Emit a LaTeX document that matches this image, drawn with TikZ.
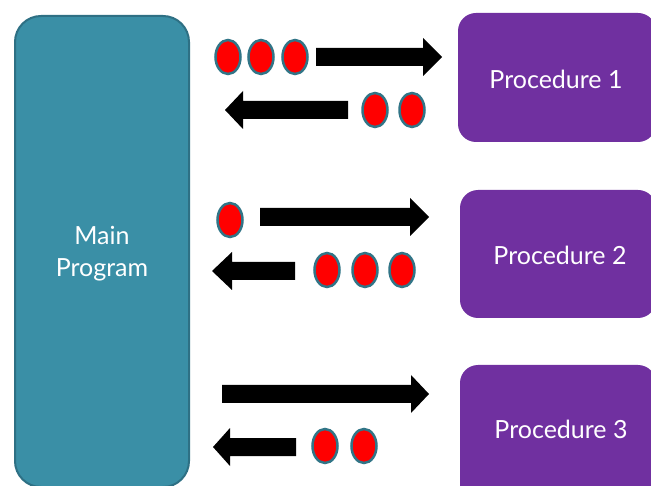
\documentclass[tikz,border=0pt]{standalone}
\usepackage{fontspec}
\setmainfont{Lato}
\definecolor{tealfill}{RGB}{58,143,166}
\definecolor{tealline}{RGB}{46,112,132}
\definecolor{procfill}{RGB}{112,48,160}
\definecolor{tokenline}{RGB}{49,117,135}
\tikzset{
  mainbox/.style={fill=tealfill, draw=tealline, line width=2pt, rounded corners=26pt},
  procbox/.style={fill=procfill, rounded corners=18pt},
  label/.style={text=white, font=\fontsize{25}{32}\selectfont, align=center},
  token/.style={fill=red, draw=tokenline, line width=2.5pt},
  blockarrow/.style={fill=black}
}
% right-pointing block arrow: shaft start, head base, tip, centre line
\newcommand\rightblock[4]{%
  \fill[blockarrow] (#1,#4-9) -- (#2,#4-9) -- (#2,#4-19) -- (#3,#4)
    -- (#2,#4+19) -- (#2,#4+9) -- (#1,#4+9) -- cycle;}
% left-pointing block arrow: tip, head base, shaft end, centre line
\newcommand\leftblock[4]{%
  \fill[blockarrow] (#1,#4) -- (#2,#4-19) -- (#2,#4-9) -- (#3,#4-9)
    -- (#3,#4+9) -- (#2,#4+9) -- (#2,#4+19) -- cycle;}
\newcommand\tokenat[2]{\draw[token] (#1,#2) ellipse [x radius=12.5, y radius=17];}
\begin{document}
\begin{tikzpicture}[x=1pt,y=-1pt]
  \useasboundingbox (0,0) rectangle (651,486);
  \clip (0,0) rectangle (651,486);
  \fill[white] (0,0) rectangle (651,486);

  % main program
  \draw[mainbox] (15,16) rectangle (189,487);
  \node[label] (main) at (102,254) {Main\\Program};

  % procedures
  \fill[procbox] (458,13) rectangle (656,142);
  \fill[procbox] (460,190) rectangle (656,318);
  \fill[procbox] (460,365) rectangle (656,510);
  \node[label] (p1) at (556,79) {Procedure 1};
  \node[label] (p2) at (560,255) {Procedure 2};
  \node[label] (p3) at (561,429) {Procedure 3};

  % call and return of procedure 1
  \tokenat{228}{57}\tokenat{261}{57}\tokenat{295}{57}
  \rightblock{316}{423}{442}{57}
  \leftblock{225}{243}{348}{110}
  \tokenat{375}{110}\tokenat{412}{110}

  % call and return of procedure 2
  \tokenat{230}{220}
  \rightblock{260}{410}{429}{217}
  \leftblock{212}{232}{295}{271}
  \tokenat{327}{270}\tokenat{365}{270}\tokenat{402}{270}

  % call and return of procedure 3
  \rightblock{222}{411}{429}{394}
  \leftblock{213}{230}{296}{447}
  \tokenat{325}{446}\tokenat{364}{446}
\end{tikzpicture}
\end{document}
